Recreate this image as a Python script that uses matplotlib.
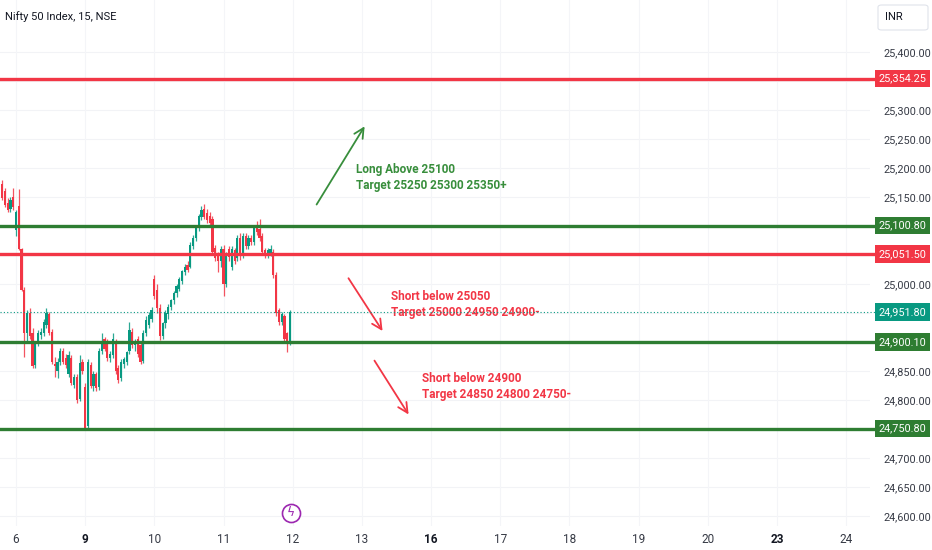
import matplotlib
matplotlib.use("Agg")
import matplotlib.pyplot as plt
import matplotlib.transforms as mtransforms
from matplotlib.patches import FancyBboxPatch

plt.rcParams['font.family'] = ['Roboto', 'DejaVu Sans']

# 15 minute bars, index 0 = first bar of day 6 (25 bars per session)
first_bar = -5
opens = [25172, 25160, 25140, 25130, 25150,
         25094, 25134, 25060, 24990, 24916, 24950, 24915, 24860, 24898, 24912,
         24916, 24930, 24948, 24918, 24862, 24850, 24866, 24885, 24872, 24845,
         24872, 24826, 24840, 24802, 24866,
         24823, 24755, 24860, 24825, 24845, 24822, 24885, 24905, 24898, 24872,
         24878, 24900, 24855, 24838, 24862, 24866, 24885, 24918, 24895, 24905,
         24895, 24868, 24915, 24930, 24940,
         25008, 24990, 24958, 24910, 24932, 24948, 24960, 24972, 24984, 24992,
         25006, 25020, 25032, 25030, 25066, 25080, 25098, 25115, 25130, 25122,
         25118, 25112, 25062, 25048, 25040,
         25060, 25000, 25060, 25030, 25058, 25045, 25080, 25050, 25082, 25065,
         25080, 25072, 25098, 25095, 25082, 25058, 25050, 25052, 25055, 25016,
         24955, 24935, 24945, 24915, 24900]
highs = [25180, 25165, 25148, 25150, 25165,
         25128, 25163, 25062, 24995, 24955, 24958, 24925, 24902, 24920, 24925,
         24940, 24958, 24952, 24922, 24875, 24872, 24890, 24890, 24880, 24885,
         24878, 24845, 24845, 24878, 24870,
         24830, 24870, 24865, 24850, 24848, 24890, 24915, 24908, 24905, 24885,
         24915, 24905, 24860, 24870, 24875, 24885, 24935, 24925, 24905, 24910,
         24900, 24920, 24945, 24952, 24960,
         25015, 25000, 24965, 24935, 24955, 24965, 24975, 24988, 25000, 25012,
         25025, 25035, 25040, 25072, 25085, 25102, 25120, 25135, 25138, 25130,
         25125, 25118, 25068, 25055, 25065,
         25068, 25055, 25065, 25065, 25062, 25085, 25088, 25088, 25088, 25085,
         25085, 25100, 25108, 25112, 25088, 25062, 25062, 25068, 25060, 25020,
         24958, 24952, 24948, 24918, 24955]
lows = [25145, 25132, 25125, 25125, 25128,
        25082, 25058, 24988, 24875, 24900, 24905, 24855, 24855, 24893, 24905,
        24910, 24925, 24912, 24862, 24840, 24838, 24860, 24862, 24855, 24840,
        24826, 24820, 24795, 24798, 24845,
        24748, 24750, 24820, 24815, 24815, 24818, 24880, 24885, 24868, 24865,
        24872, 24845, 24830, 24832, 24855, 24860, 24880, 24890, 24885, 24875,
        24862, 24864, 24910, 24925, 24935,
        24975, 24950, 24903, 24905, 24925, 24940, 24955, 24965, 24978, 24988,
        25000, 25015, 25020, 25028, 25060, 25075, 25092, 25110, 25112, 25105,
        25100, 25050, 25040, 25020, 25030,
        24980, 24995, 25040, 25025, 25035, 25040, 25042, 25045, 25060, 25060,
        25068, 25068, 25085, 25075, 25052, 25045, 25045, 25048, 25010, 24945,
        24930, 24930, 24900, 24883, 24895]
closes = [25148, 25136, 25128, 25145, 25132,
          25124, 25060, 24990, 24916, 24950, 24910, 24858, 24898, 24915, 24918,
          24935, 24950, 24916, 24866, 24858, 24866, 24885, 24866, 24860, 24878,
          24830, 24840, 24800, 24864, 24850,
          24752, 24866, 24825, 24845, 24820, 24885, 24900, 24888, 24872, 24880,
          24905, 24850, 24835, 24865, 24870, 24882, 24920, 24895, 24900, 24880,
          24866, 24915, 24938, 24947, 24955,
          24980, 24958, 24910, 24932, 24950, 24960, 24972, 24985, 24996, 25008,
          25022, 25030, 25025, 25068, 25080, 25099, 25117, 25128, 25116, 25110,
          25105, 25055, 25045, 25040, 25060,
          25000, 25050, 25046, 25060, 25040, 25080, 25052, 25082, 25065, 25080,
          25072, 25098, 25090, 25080, 25055, 25050, 25058, 25060, 25016, 24950,
          24935, 24948, 24905, 24898, 24951.8]

day_labels = ['6', '9', '10', '11', '12', '13', '16', '17', '18', '19', '20', '23', '24']
week_start = ['9', '16', '23']
bars_per_day = 25

price_ticks = [25400, 25300, 25250, 25200, 25150, 25000, 24850, 24800, 24700, 24650, 24600]
grid_levels = list(range(24600, 25401, 50))

levels = [25354.25, 25100.80, 25051.50, 24900.10, 24750.80]
level_colors = ['#f23645', '#2e7d32', '#f23645', '#2e7d32', '#2e7d32']
last_price = 24951.80

UP = '#089981'
DOWN = '#f23645'
GREEN = '#388e3c'

fig = plt.figure(figsize=(9.32, 5.5), dpi=100)
ax = fig.add_axes([0, 24 / 550, 870 / 932, 526 / 550])
ax.set_xlim(-5.78, 308.6)
ax.set_ylim(24582.8, 25489.7)

for g in grid_levels:
    ax.axhline(g, color='#f2f3f6', lw=0.8, zorder=0)
for k in range(len(day_labels)):
    ax.axvline(k * bars_per_day, color='#f4f5f8', lw=0.8, zorder=0)

# candles
for n in range(len(closes)):
    i = first_bar + n
    o, h, l, c = opens[n], highs[n], lows[n], closes[n]
    col = UP if c >= o else DOWN
    ax.vlines(i, l, h, color=col, lw=0.9, alpha=0.85, zorder=2)
    ax.bar(i, max(abs(c - o), 1.5), bottom=min(o, c), width=0.8, color=col, lw=0, zorder=3)

# horizontal levels and price scale boxes
trans = mtransforms.blended_transform_factory(ax.transAxes, ax.transData)
for v, col in zip(levels, level_colors):
    ax.axhline(v, xmin=0, xmax=877 / 870, color=col, lw=2.4, clip_on=False, zorder=4)
    ax.text(902.5 / 870, v, f'{v:,.2f}', transform=trans, ha='center', va='center',
            color='white', fontsize=7.8, clip_on=False,
            bbox=dict(boxstyle='square,pad=0.35', fc=col, ec='none'))

ax.axhline(last_price, xmin=0, xmax=877 / 870, color=UP, lw=0.8,
           ls=(0, (1, 2)), clip_on=False, zorder=4)
ax.text(902.5 / 870, last_price, f'{last_price:,.2f}', transform=trans, ha='center',
        va='center', color='white', fontsize=7.8, clip_on=False,
        bbox=dict(boxstyle='square,pad=0.35', fc=UP, ec='none'))

# axes and ticks
for s in ax.spines.values():
    s.set_visible(False)
ax.yaxis.tick_right()
ax.set_yticks(price_ticks)
ax.set_yticklabels([f'{p:,.2f}' for p in price_ticks])
ax.tick_params(axis='y', length=0, pad=10, labelsize=7.8, labelcolor='#363a45')
ax.set_xticks([k * bars_per_day for k in range(len(day_labels))])
ax.set_xticklabels(day_labels)
ax.tick_params(axis='x', length=0, pad=5, labelsize=8.5, labelcolor='#363a45')
for lab in ax.get_xticklabels():
    if lab.get_text() in week_start:
        lab.set_fontweight('bold')
        lab.set_color('#131722')

# trade notes
arrow = '->,head_length=0.7,head_width=0.35'
ax.annotate('', xy=(126.5, 25276), xytext=(108.1, 25133),
            arrowprops=dict(arrowstyle=arrow, color=GREEN, lw=1.3))
ax.text(122.9, 25183, 'Long Above 25100\nTarget 25250 25300 25350+', color=GREEN,
        fontsize=8.5, fontweight='bold', va='center', ha='left', linespacing=1.3)

ax.annotate('', xy=(133.0, 24915), xytext=(119.6, 25014),
            arrowprops=dict(arrowstyle=arrow, color=DOWN, lw=1.3))
ax.text(135.5, 24965, 'Short below 25050\nTarget 25000 24950 24900-', color=DOWN,
        fontsize=8.5, fontweight='bold', va='center', ha='left', linespacing=1.3)

ax.annotate('', xy=(142.4, 24771), xytext=(129.0, 24872),
            arrowprops=dict(arrowstyle=arrow, color=DOWN, lw=1.3))
ax.text(146.7, 24824, 'Short below 24900\nTarget 24850 24800 24750-', color=DOWN,
        fontsize=8.5, fontweight='bold', va='center', ha='left', linespacing=1.3)

# title, currency box, event icon
fig.text(5 / 932, 1 - 17 / 550, 'Nifty 50 Index, 15, NSE', va='center', ha='left',
         fontsize=8, color='#131722')
fig.patches.append(FancyBboxPatch((878 / 932, 1 - 30 / 550), 50 / 932, 25 / 550,
                                  boxstyle='round,pad=0,rounding_size=0.004',
                                  transform=fig.transFigure, fc='white', ec='#e0e3eb', lw=0.8))
fig.text(885 / 932, 1 - 17 / 550, 'INR', va='center', ha='left', fontsize=8, color='#131722')

ax.plot([291 / 870], [13 / 526], 'o', transform=ax.transAxes, ms=13, mfc='white',
        mec='#9c27b0', mew=1.2, clip_on=False, zorder=6)
ax.text(291 / 870, 13 / 526, 'ϟ', transform=ax.transAxes, ha='center', va='center',
        color='#9c27b0', fontsize=9, family='DejaVu Sans', zorder=7)

fig.savefig('out.png', dpi=100, facecolor='white')
